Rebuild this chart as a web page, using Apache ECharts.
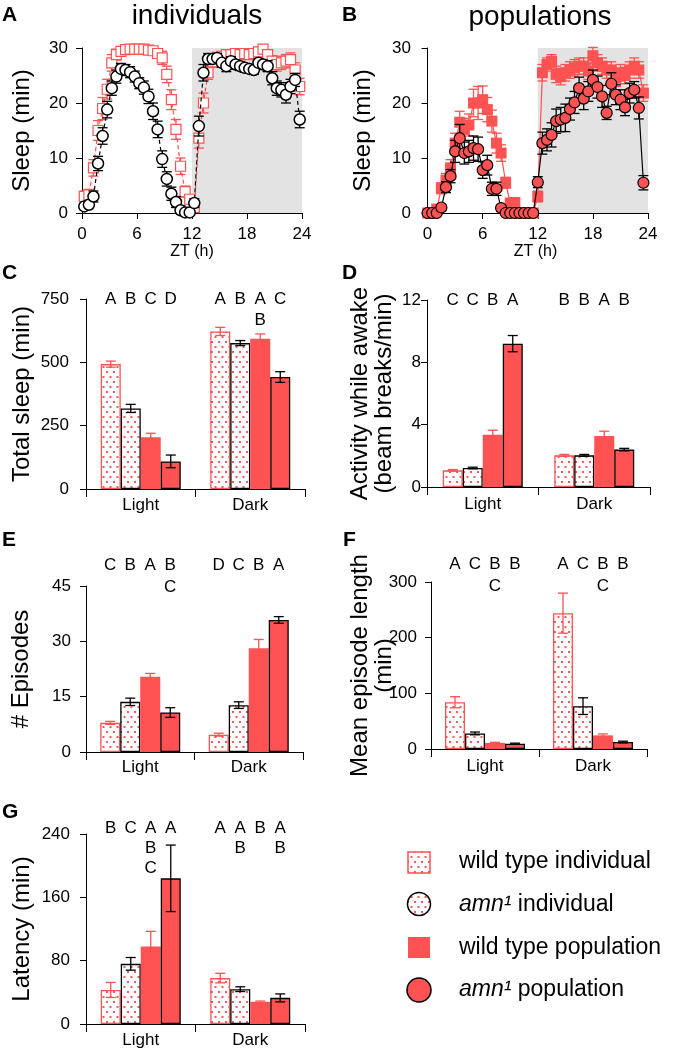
<!DOCTYPE html>
<html>
<head>
<meta charset="utf-8">
<script src="https://cdn.jsdelivr.net/npm/echarts@6.0.0/dist/echarts.min.js"></script>
<style>
html,body{margin:0;padding:0;background:#fff;}
#chart{width:681px;height:1052px;}
</style>
</head>
<body>
<div id="chart"></div>
<script>
// ---------------- DATA ----------------
// Panel A/B time axis (ZT hours, 30-min bins)
const ztIndividual = [0.25,0.75,1.25,1.75,2.25,2.75,3.25,3.75,4.25,4.75,5.25,5.75,6.25,6.75,7.25,7.75,8.25,8.75,9.25,9.75,10.25,10.75,11.25,11.75,12.25,12.75,13.25,13.75,14.25,14.75,15.25,15.75,16.25,16.75,17.25,17.75,18.25,18.75,19.25,19.75,20.25,20.75,21.25,21.75,22.25,22.75,23.25,23.75];
const ztPopulation = [0,0.5,1,1.5,2,2.5,3,3.5,4,4.5,5,5.5,6,6.5,7,7.5,8,8.5,9,9.5,10,10.5,11,11.5,12,12.5,13,13.5,14,14.5,15,15.5,16,16.5,17,17.5,18,18.5,19,19.5,20,20.5,21,21.5,22,22.5,23,23.5];
const darkPhase = [12, 24];
const ztTicks = [0, 6, 12, 18, 24];

// A: individuals
const wtIndivSleep = [3.0,3.3,8.2,15.0,19.0,22.5,27.3,28.8,29.4,29.7,29.8,29.8,29.8,29.8,29.6,29.5,29.0,28.2,25.2,20.6,15.2,8.5,3.9,2.5,1.0,13.6,20.0,25.5,27.5,28.3,28.5,28.8,28.8,29.0,28.8,29.0,28.8,29.0,29.3,29.8,28.8,27.6,27.0,27.3,27.6,27.9,26.0,23.0];
const wtIndivErr   = [1.0,1.0,1.5,1.8,2.0,1.8,1.5,1.0,0.6,0.4,0.3,0.3,0.3,0.3,0.4,0.6,0.8,1.2,1.5,1.8,1.8,1.5,1.0,0.5,0.8,1.8,1.8,1.2,1.0,0.8,0.8,0.8,0.7,0.7,0.7,0.7,0.7,0.7,0.7,0.6,0.8,1.0,1.2,1.2,1.2,1.2,1.3,1.5];
const amnIndivSleep = [1.2,1.5,3.0,9.0,14.0,18.8,22.7,24.8,26.2,26.0,25.6,24.8,23.6,22.8,21.2,18.5,15.2,9.8,6.2,3.5,2.0,0.5,0.1,0.1,1.8,15.8,25.5,28.0,28.0,28.2,27.3,26.7,27.6,27.0,26.7,26.4,26.2,26.0,27.3,27.0,26.7,24.5,22.7,22.4,21.5,23.0,24.2,17.0];
const amnIndivErr   = [0.5,0.6,1.0,1.3,1.5,1.5,1.3,1.2,1.0,1.0,1.0,1.0,1.0,1.2,1.3,1.5,1.5,1.5,1.3,1.2,1.0,0.8,0.5,0.3,0.8,1.8,1.5,1.0,0.8,0.8,0.8,1.0,0.8,0.8,0.8,0.8,0.8,0.8,0.8,0.8,1.0,1.2,1.3,1.3,1.5,1.3,1.2,1.5];

// B: populations
const wtPopSleep = [0,0,0.7,4.5,6.0,8.2,12.7,16.5,15.2,16.0,20.0,20.0,20.6,18.8,16.7,12.7,10.9,5.5,1.8,1.9,0,0,0,0,3.0,25.5,27.0,27.6,25.2,24.8,25.5,26.0,26.4,26.7,26.7,25.8,28.6,27.3,26.7,26.0,26.0,24.5,25.5,25.0,26.0,26.7,26.0,21.8];
const wtPopErr   = [0,0,0.5,1.0,1.2,1.5,1.8,2.0,2.0,2.0,2.5,3.0,2.5,2.2,2.0,1.8,1.5,1.0,0.8,0.8,0,0,0,0,1.0,1.5,1.2,1.2,1.5,1.5,1.5,1.5,1.5,1.5,1.5,1.5,1.5,1.5,1.5,1.5,1.5,1.5,1.5,1.5,1.5,1.5,1.5,1.5];
const amnPopSleep = [0,0,0,1.0,4.7,6.7,11.2,13.6,10.9,11.2,11.8,11.6,7.8,8.7,4.4,4.4,0.9,0,0,0,0,0,0,0,5.6,12.7,13.3,14.2,16.7,17.0,17.3,18.9,20.1,22.7,20.8,22.1,24.2,22.9,21.2,18.2,23.5,21.5,20.6,19.2,21.8,22.4,19.1,5.5];
const amnPopErr   = [0,0,0,0.5,1.0,1.2,2.0,2.5,2.0,2.0,2.2,2.2,1.5,1.8,1.2,1.2,0.5,0,0,0,0,0,0,0,1.0,2.0,2.0,2.2,2.2,2.2,2.5,2.0,2.0,2.0,2.0,1.8,1.8,2.0,2.0,1.2,2.0,1.8,1.8,1.5,1.8,1.5,2.0,1.3];

// Bar panels: rows = genotype (wt indiv, amn indiv, wt pop, amn pop), cols = [Light, Dark]
const phases = ['Light', 'Dark'];
const genotypes = ['wild type individual', 'amn1 individual', 'wild type population', 'amn1 population'];

const totalSleep    = [[493,622],[318,576],[204,593],[109,442]];
const totalSleepErr = [[12,16],[16,10],[16,19],[25,21]];
const lettersC = [['A','B','C','D'], ['A','B','A\nB','C']];

const activity    = [[1.07,2.03],[1.22,2.03],[3.36,3.28],[9.2,2.4]];
const activityErr = [[0.05,0.06],[0.05,0.06],[0.28,0.3],[0.52,0.08]];
const lettersD = [['C','C','B','A'], ['B','B','A','B']];

const episodes    = [[7.9,4.7],[13.6,12.7],[20.4,28.1],[10.7,35.8]];
const episodesErr = [[0.4,0.4],[1.0,0.9],[0.9,2.4],[1.3,0.9]];
const lettersE = [['C','B','A','B\nC'], ['D','C','B','A']];

const episodeLen    = [[84,244],[28,77],[11,24.5],[9.5,12.5]];
const episodeLenErr = [[10,36],[2.5,15],[1,2.5],[1,1.5]];
const lettersF = [['A','C','B\nC','B'], ['A','C','B\nC','B']];

const latency    = [[43,58],[76,44],[98,28],[184,33]];
const latencyErr = [[9.5,6],[8,3],[19,1],[42,5]];
const lettersG = [['B','C','A\nB\nC','A'], ['A','A\nB','B','A\nB']];

// ---------------- STYLE ----------------
const FONT = '"Liberation Sans", Arial, Helvetica, sans-serif';
const RED = '#ff5252';
const DOTC = '#f05c5c';
const BW = 20;

function dotCanvas() {
  const c = document.createElement('canvas');
  c.width = 7; c.height = 10;
  const g = c.getContext('2d');
  g.fillStyle = '#ffffff'; g.fillRect(0, 0, 7, 10);
  g.fillStyle = DOTC;
  g.fillRect(1, 1, 2, 2);
  g.fillRect(4.5, 6, 2, 2);
  return c;
}
const dots = { image: dotCanvas(), repeat: 'repeat' };

const chart = echarts.init(document.getElementById('chart'), null, { renderer: 'canvas', width: 681, height: 1052 });

const grids = [
  { left: 82,  top: 48,  width: 220, height: 165 },
  { left: 423, top: 48,  width: 225, height: 165 },
  { left: 86,  top: 299, width: 219, height: 190 },
  { left: 427, top: 300, width: 223, height: 187 },
  { left: 86,  top: 586, width: 217, height: 166 },
  { left: 431, top: 582, width: 216, height: 167 },
  { left: 86,  top: 834, width: 219, height: 190 }
].map(g => Object.assign({ containLabel: false, outerBoundsMode: 'none' }, g));

const lineAx = { show: true, lineStyle: { color: '#000', width: 1 } };
const tickAx = (len) => ({ show: true, length: len, lineStyle: { color: '#000', width: 1 } });
const lbl = (margin) => ({ color: '#000', fontSize: 17, fontFamily: FONT, margin: margin });
const nameStyle = { color: '#000', fontSize: 24, fontFamily: FONT, lineHeight: 24 };

function zip2(xs, ys) { return xs.map((x, i) => [x, ys[i]]); }
function zip3(xs, ys, es) { return xs.map((x, i) => [x, ys[i], es[i]]); }

function errRender(color, cap, dx) {
  return function (params, api) {
    const x = api.value(0), y = api.value(1), e = api.value(2);
    if (!(e > 0)) return null;
    const c = api.coord([x, y]);
    const t = api.coord([x, y + e]);
    const b = api.coord([x, Math.max(0, y - e)]);
    const px = c[0] + (dx || 0);
    const st = { stroke: color, lineWidth: 1.3 };
    return { type: 'group', children: [
      { type: 'line', shape: { x1: px, y1: t[1], x2: px, y2: b[1] }, style: st },
      { type: 'line', shape: { x1: px - cap / 2, y1: t[1], x2: px + cap / 2, y2: t[1] }, style: st },
      { type: 'line', shape: { x1: px - cap / 2, y1: b[1], x2: px + cap / 2, y2: b[1] }, style: st }
    ]};
  };
}

function shadeRender(params, api) {
  const p0 = api.coord([api.value(0), 30]);
  const p1 = api.coord([api.value(1), 0]);
  return { type: 'rect', shape: { x: p0[0], y: p0[1], width: p1[0] - p0[0], height: p1[1] - p0[1] }, style: { fill: '#e3e3e3' } };
}

const xAxes = [], yAxes = [], series = [];

// ----- A and B -----
function timePanel(gi, xmin, yMarg, xs, set) {
  xAxes.push({
    gridIndex: gi, type: 'value', min: xmin, max: 24,
    axisLine: lineAx, axisTick: Object.assign(tickAx(6), { customValues: ztTicks }),
    axisLabel: Object.assign(lbl(13), { customValues: ztTicks }), splitLine: { show: false },
    name: 'ZT (h)', nameLocation: 'middle', nameGap: 31, nameMoveOverlap: false,
    nameTextStyle: { color: '#000', fontSize: 16, fontFamily: FONT }
  });
  yAxes.push({
    gridIndex: gi, type: 'value', min: 0, max: 30, interval: 10,
    axisLine: lineAx, axisTick: tickAx(6), axisLabel: lbl(yMarg), splitLine: { show: false },
    name: 'Sleep (min)', nameLocation: 'middle', nameGap: 48, nameMoveOverlap: false, nameTextStyle: nameStyle
  });
  series.push({ type: 'custom', xAxisIndex: gi, yAxisIndex: gi, data: [darkPhase], renderItem: shadeRender, z: 0, silent: true, clip: false });
  set.forEach((s, k) => {
    series.push({ type: 'custom', xAxisIndex: gi, yAxisIndex: gi, data: zip3(xs, s.vals, s.errs),
      renderItem: errRender(s.color, 10, 0), z: 2 + 2 * k, silent: true, clip: false });
    series.push({ type: 'line', name: s.name, xAxisIndex: gi, yAxisIndex: gi, data: zip2(xs, s.vals),
      symbol: s.symbol, symbolSize: s.size, showSymbol: true, showAllSymbol: true,
      lineStyle: { color: s.color, width: 1.2, type: s.dash },
      itemStyle: { color: s.fill, borderColor: s.border, borderWidth: s.bw },
      z: 3 + 2 * k, animation: false, silent: true });
  });
}

timePanel(0, 0, 14, ztIndividual, [
  { name: 'wild type individual', vals: wtIndivSleep, errs: wtIndivErr, color: RED, symbol: 'rect', size: 10, dash: [4, 3], fill: dots, border: RED, bw: 1.2 },
  { name: 'amn1 individual', vals: amnIndivSleep, errs: amnIndivErr, color: '#000', symbol: 'circle', size: 11, dash: [4, 3], fill: '#ffffff', border: '#000', bw: 1.5 }
]);
timePanel(1, -0.5, 12, ztPopulation, [
  { name: 'wild type population', vals: wtPopSleep, errs: wtPopErr, color: RED, symbol: 'rect', size: 11, dash: 'solid', fill: RED, border: RED, bw: 0 },
  { name: 'amn1 population', vals: amnPopSleep, errs: amnPopErr, color: '#000', symbol: 'circle', size: 11, dash: 'solid', fill: RED, border: '#000', bw: 1.2 }
]);

// ----- bar panels -----
const barStyles = [
  { color: dots, borderColor: RED, borderWidth: 1.3, err: RED },
  { color: dots, borderColor: '#000', borderWidth: 1.3, err: '#000' },
  { color: RED, borderColor: RED, borderWidth: 0, err: RED },
  { color: RED, borderColor: '#000', borderWidth: 1.3, err: '#000' }
];

function letterRender(letters, yTop, dy, lh) {
  return function (params, api) {
    const ci = api.value(0);
    const p = api.coord([ci, yTop]);
    const kids = letters[params.dataIndex].map((s, k) => ({
      type: 'text', x: p[0] + (k - 1.5) * BW, y: p[1] + dy - lh / 2,
      style: { text: s, fill: '#000', fontSize: 17, fontFamily: FONT, align: 'center', verticalAlign: 'top', lineHeight: lh }
    }));
    return { type: 'group', children: kids };
  };
}

function barPanel(gi, cfg) {
  xAxes.push({
    gridIndex: gi, type: 'category', data: phases, boundaryGap: true,
    axisLine: lineAx, axisTick: tickAx(8), axisLabel: lbl(cfg.xMarg), splitLine: { show: false }
  });
  yAxes.push({
    gridIndex: gi, type: 'value', min: 0, max: cfg.max, interval: cfg.interval,
    axisLine: lineAx, axisTick: tickAx(6), axisLabel: lbl(cfg.yMarg), splitLine: { show: false },
    name: cfg.name, nameLocation: 'middle', nameGap: cfg.nameGap, nameMoveOverlap: false, nameTextStyle: nameStyle
  });
  cfg.vals.forEach((v, k) => {
    const st = barStyles[k];
    series.push({ type: 'bar', name: genotypes[k], xAxisIndex: gi, yAxisIndex: gi, data: v,
      barWidth: BW, barGap: '0%',
      itemStyle: { color: st.color, borderColor: st.borderColor, borderWidth: st.borderWidth },
      z: 2, animation: false, silent: true });
  });
  cfg.vals.forEach((v, k) => {
    series.push({ type: 'custom', xAxisIndex: gi, yAxisIndex: gi,
      data: v.map((val, c) => [c, val, cfg.errs[k][c]]),
      renderItem: errRender(barStyles[k].err, 10, (k - 1.5) * BW), z: 3, silent: true, clip: false });
  });
  series.push({ type: 'custom', xAxisIndex: gi, yAxisIndex: gi,
    data: phases.map((p, c) => [c, cfg.max]),
    renderItem: letterRender(cfg.letters, cfg.max, cfg.dy, cfg.lh), z: 4, silent: true, clip: false });
}

barPanel(2, { vals: totalSleep, errs: totalSleepErr, letters: lettersC, max: 750, interval: 250, name: 'Total sleep (min)', nameGap: 52, yMarg: 17, xMarg: 8, dy: 0, lh: 21 });
barPanel(3, { vals: activity, errs: activityErr, letters: lettersD, max: 12, interval: 4, name: 'Activity while awake\n(beam breaks/min)', nameGap: 31, yMarg: 6, xMarg: 9, dy: 0, lh: 21 });
barPanel(4, { vals: episodes, errs: episodesErr, letters: lettersE, max: 45, interval: 15, name: '# Episodes', nameGap: 53, yMarg: 15, xMarg: 7, dy: -21, lh: 22 });
barPanel(5, { vals: episodeLen, errs: episodeLenErr, letters: lettersF, max: 300, interval: 100, name: 'Mean episode length\n(min)', nameGap: 35, yMarg: 14, xMarg: 9, dy: -18, lh: 22 });
barPanel(6, { vals: latency, errs: latencyErr, letters: lettersG, max: 240, interval: 80, name: 'Latency (min)', nameGap: 52, yMarg: 16, xMarg: 8, dy: -6, lh: 20 });

// ----- titles, panel letters, legend -----
function txt(x, y, text, size, extra) {
  return { type: 'text', x: x, y: y, silent: true,
    style: Object.assign({ text: text, fill: '#000', fontSize: size, fontFamily: FONT, align: 'left', verticalAlign: 'middle',
      textAlign: 'left', textVerticalAlign: 'middle' }, extra || {}) };
}
const panelLetters = [['A', 2, 15], ['B', 342, 15], ['C', 2, 273], ['D', 342, 273], ['E', 2, 540], ['F', 343, 540], ['G', 2, 812]];
const graphics = [
  txt(197, 16, 'individuals', 28, { align: 'center', textAlign: 'center' }),
  txt(540, 17, 'populations', 28, { align: 'center', textAlign: 'center' })
];
panelLetters.forEach(p => graphics.push(txt(p[1], p[2], p[0], 21, { fontWeight: 'bold' })));

const legendItems = [
  { y: 862, rich: 'wild type individual' },
  { y: 905, rich: '{i|amn¹} individual' },
  { y: 948, rich: 'wild type population' },
  { y: 990, rich: '{i|amn¹} population' }
];
graphics.push({ type: 'rect', shape: { x: 408, y: 852, width: 22, height: 21 }, style: { fill: dots, stroke: RED, lineWidth: 1.5 }, silent: true });
graphics.push({ type: 'circle', shape: { cx: 419, cy: 904, r: 11.5 }, style: { fill: dots, stroke: '#000', lineWidth: 1.5 }, silent: true });
graphics.push({ type: 'rect', shape: { x: 408, y: 937, width: 22, height: 21 }, style: { fill: RED }, silent: true });
graphics.push({ type: 'circle', shape: { cx: 419, cy: 990, r: 12 }, style: { fill: RED, stroke: '#000', lineWidth: 1.5 }, silent: true });
legendItems.forEach(it => graphics.push(txt(459, it.y, it.rich, 23, {
  rich: { i: { fontStyle: 'italic', fontSize: 23, fontFamily: FONT, fill: '#000' } }
})));

chart.setOption({
  animation: false,
  backgroundColor: '#ffffff',
  textStyle: { fontFamily: FONT },
  grid: grids,
  xAxis: xAxes,
  yAxis: yAxes,
  series: series,
  graphic: { elements: graphics }
});
</script>
</body>
</html>
